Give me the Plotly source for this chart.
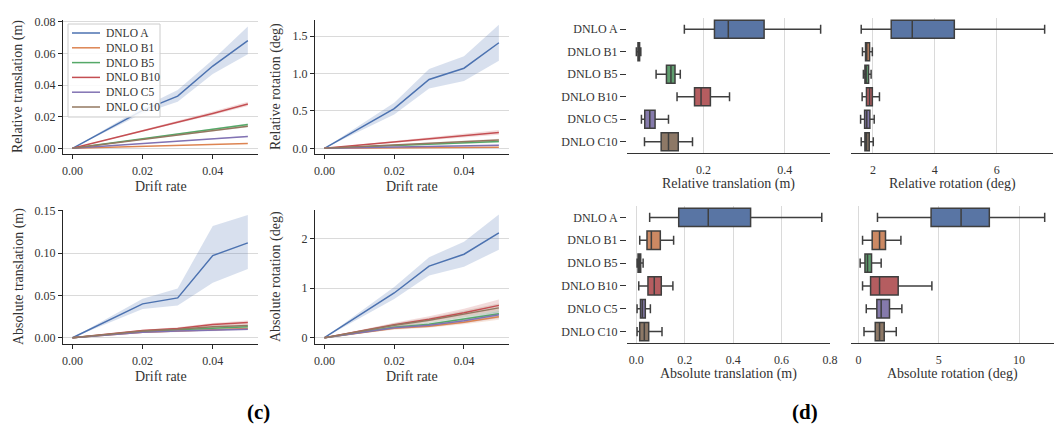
import plotly.graph_objects as go

# The page places the figure at an 8px body margin; all pixel positions below are
# given in page (screenshot) coordinates and converted with this offset.
OFF = 8
FW, FH = 1054, 420
FONT = "Liberation Serif"

series = ["DNLO A", "DNLO B1", "DNLO B5", "DNLO B10", "DNLO C5", "DNLO C10"]
line_colors = ["#4C72B0", "#DD8452", "#55A868", "#C44E52", "#8172B3", "#937860"]
band_colors = ["rgba(76,114,176,0.22)", "rgba(221,132,82,0.2)", "rgba(85,168,104,0.2)",
               "rgba(196,78,82,0.2)", "rgba(129,114,179,0.2)", "rgba(147,120,96,0.2)"]
box_colors = ["#5975a4", "#cc8963", "#5f9e6e", "#b55d60", "#857aab", "#8d7866"]

drift = [0.0, 0.02, 0.03, 0.04, 0.05]

# ---- Relative translation (m) ----
rel_trans_mean = [
    [0, 0.024, 0.033, 0.052, 0.068],
    [0, 0.0012, 0.0018, 0.0024, 0.003],
    [0, 0.006, 0.009, 0.012, 0.015],
    [0, 0.011, 0.0165, 0.022, 0.028],
    [0, 0.003, 0.0045, 0.006, 0.0075],
    [0, 0.0056, 0.0084, 0.0112, 0.014],
]
rel_trans_lo = [
    [0, 0.022, 0.0295, 0.047, 0.0595],
    [0, 0.0011, 0.0017, 0.0022, 0.0028],
    [0, 0.0057, 0.0086, 0.0114, 0.0143],
    [0, 0.0104, 0.0157, 0.021, 0.0268],
    [0, 0.0028, 0.0043, 0.0057, 0.0071],
    [0, 0.0053, 0.008, 0.0106, 0.0133],
]
rel_trans_hi = [
    [0, 0.026, 0.0368, 0.056, 0.077],
    [0, 0.0013, 0.0019, 0.0026, 0.0032],
    [0, 0.0063, 0.0094, 0.0126, 0.0157],
    [0, 0.0116, 0.0174, 0.0233, 0.0295],
    [0, 0.0032, 0.0047, 0.0063, 0.0079],
    [0, 0.0059, 0.0088, 0.0118, 0.0147],
]

# ---- Relative rotation (deg) ----
rel_rot_mean = [
    [0, 0.53, 0.92, 1.07, 1.41],
    [0, 0.006, 0.009, 0.012, 0.015],
    [0, 0.036, 0.054, 0.072, 0.09],
    [0, 0.085, 0.13, 0.17, 0.21],
    [0, 0.016, 0.024, 0.032, 0.04],
    [0, 0.044, 0.066, 0.088, 0.11],
]
rel_rot_lo = [
    [0, 0.45, 0.80, 0.90, 1.17],
    [0, 0.004, 0.006, 0.008, 0.01],
    [0, 0.03, 0.045, 0.06, 0.075],
    [0, 0.07, 0.11, 0.145, 0.18],
    [0, 0.012, 0.018, 0.025, 0.031],
    [0, 0.037, 0.055, 0.074, 0.092],
]
rel_rot_hi = [
    [0, 0.61, 1.06, 1.23, 1.65],
    [0, 0.008, 0.012, 0.016, 0.02],
    [0, 0.042, 0.063, 0.084, 0.105],
    [0, 0.10, 0.15, 0.195, 0.245],
    [0, 0.02, 0.03, 0.039, 0.049],
    [0, 0.051, 0.077, 0.102, 0.128],
]

# ---- Absolute translation (m) ----
abs_trans_mean = [
    [0, 0.040, 0.047, 0.097, 0.112],
    [0, 0.0065, 0.008, 0.0095, 0.011],
    [0, 0.0075, 0.0095, 0.0115, 0.013],
    [0, 0.0085, 0.011, 0.0155, 0.018],
    [0, 0.0065, 0.008, 0.009, 0.010],
    [0, 0.008, 0.010, 0.013, 0.0145],
]
abs_trans_lo = [
    [0, 0.034, 0.038, 0.065, 0.081],
    [0, 0.0057, 0.007, 0.0083, 0.0096],
    [0, 0.0066, 0.0084, 0.0101, 0.0114],
    [0, 0.0075, 0.0097, 0.0136, 0.0158],
    [0, 0.0057, 0.007, 0.0079, 0.0088],
    [0, 0.007, 0.0088, 0.0114, 0.0128],
]
abs_trans_hi = [
    [0, 0.046, 0.058, 0.132, 0.145],
    [0, 0.0073, 0.009, 0.0107, 0.0124],
    [0, 0.0084, 0.0106, 0.0129, 0.0146],
    [0, 0.0095, 0.0123, 0.0174, 0.0202],
    [0, 0.0073, 0.009, 0.0101, 0.0112],
    [0, 0.009, 0.0112, 0.0146, 0.0162],
]

# ---- Absolute rotation (deg) ----
abs_rot_mean = [
    [0, 0.90, 1.44, 1.68, 2.11],
    [0, 0.19, 0.23, 0.31, 0.42],
    [0, 0.21, 0.27, 0.37, 0.48],
    [0, 0.26, 0.37, 0.50, 0.65],
    [0, 0.20, 0.25, 0.34, 0.46],
    [0, 0.25, 0.35, 0.47, 0.60],
]
abs_rot_lo = [
    [0, 0.78, 1.25, 1.43, 1.77],
    [0, 0.16, 0.20, 0.27, 0.36],
    [0, 0.18, 0.23, 0.32, 0.41],
    [0, 0.22, 0.32, 0.43, 0.55],
    [0, 0.17, 0.21, 0.29, 0.39],
    [0, 0.21, 0.30, 0.40, 0.51],
]
abs_rot_hi = [
    [0, 1.02, 1.62, 1.93, 2.48],
    [0, 0.22, 0.27, 0.36, 0.48],
    [0, 0.24, 0.31, 0.43, 0.55],
    [0, 0.30, 0.43, 0.58, 0.77],
    [0, 0.23, 0.29, 0.39, 0.53],
    [0, 0.29, 0.40, 0.54, 0.69],
]

# ---- Box plot statistics: [lower whisker, q1, median, q3, upper whisker] per series ----
box_rel_trans = [
    [0.153, 0.227, 0.261, 0.349, 0.488],
    [0.035, 0.039, 0.041, 0.043, 0.046],
    [0.0835, 0.109, 0.120, 0.130, 0.143],
    [0.135, 0.178, 0.194, 0.217, 0.264],
    [0.0475, 0.0556, 0.068, 0.081, 0.114],
    [0.055, 0.096, 0.114, 0.138, 0.173],
]
box_rel_rot = [
    [1.62, 2.59, 3.27, 4.63, 7.55],
    [1.66, 1.76, 1.80, 1.89, 1.98],
    [1.69, 1.74, 1.78, 1.86, 1.94],
    [1.65, 1.79, 1.89, 1.98, 2.21],
    [1.60, 1.73, 1.80, 1.90, 2.04],
    [1.62, 1.74, 1.79, 1.88, 2.01],
]
box_abs_trans = [
    [0.055, 0.175, 0.297, 0.472, 0.766],
    [0.014, 0.044, 0.062, 0.099, 0.154],
    [0.003, 0.007, 0.012, 0.018, 0.028],
    [0.010, 0.048, 0.074, 0.103, 0.151],
    [0.003, 0.017, 0.025, 0.037, 0.058],
    [0.003, 0.014, 0.033, 0.051, 0.106],
]
box_abs_rot = [
    [1.18, 4.52, 6.39, 8.15, 11.6],
    [0.25, 0.85, 1.31, 1.68, 2.64],
    [0.10, 0.40, 0.56, 0.81, 1.41],
    [0.25, 0.75, 1.31, 2.47, 4.57],
    [0.48, 1.14, 1.41, 1.93, 2.70],
    [0.34, 1.04, 1.31, 1.60, 2.35],
]


def px(x):
    return (x - OFF) / FW


def py(y):
    return 1 - (y - OFF) / FH


def dom_x(a, b):
    return [px(a), px(b)]


def dom_y(top, bottom):
    return [py(bottom), py(top)]


fig = go.Figure()

AXC = "#262626"
GRID = "#dadada"
TXT = "#333333"
TICKF = dict(family=FONT, size=12, color=TXT)
TITLE_SIZE = 14

annotations = []
shapes = []


def add_title(text, x, y, angle=0):
    annotations.append(dict(text=text, x=px(x), y=py(y), xref="paper", yref="paper",
                            showarrow=False, textangle=angle, xanchor="center",
                            yanchor="middle",
                            font=dict(family=FONT, size=TITLE_SIZE, color=TXT)))


# line panels
line_panels = [
    (1, rel_trans_mean, rel_trans_lo, rel_trans_hi, (63, 258, 20, 154), [-0.0036, 0.0811],
     [0, 0.02, 0.04, 0.06, 0.08], ".2f", "Relative translation (m)", 18),
    (2, rel_rot_mean, rel_rot_lo, rel_rot_hi, (315, 509, 20, 154), [-0.076, 1.714],
     [0, 0.5, 1.0, 1.5], ".1f", "Relative rotation (deg)", 276),
    (3, abs_trans_mean, abs_trans_lo, abs_trans_hi, (63, 258, 210, 344), [-0.0074, 0.1508],
     [0, 0.05, 0.10, 0.15], ".2f", "Absolute translation (m)", 19),
    (4, abs_rot_mean, abs_rot_lo, abs_rot_hi, (315, 509, 210, 344), [-0.127, 2.57],
     [0, 1, 2], "d", "Absolute rotation (deg)", 276),
]

layout = {}
for idx, means, los, his, (x0, x1, y0, y1), yr, ytv, yfmt, ytitle, ytx in line_panels:
    xa = "x" if idx == 1 else f"x{idx}"
    ya = "y" if idx == 1 else f"y{idx}"
    for i, name in enumerate(series):
        fig.add_trace(go.Scatter(
            x=drift + drift[::-1], y=his[i] + los[i][::-1],
            fill="toself", fillcolor=band_colors[i], line=dict(width=0),
            mode="lines", hoverinfo="skip", showlegend=False, xaxis=xa, yaxis=ya))
    for i, name in enumerate(series):
        fig.add_trace(go.Scatter(
            x=drift, y=means[i], mode="lines", name=name,
            line=dict(color=line_colors[i], width=1.5),
            showlegend=False, xaxis=xa, yaxis=ya))
    layout[f"xaxis{'' if idx == 1 else idx}"] = dict(
        domain=dom_x(x0, x1), anchor=ya, range=[-0.0027, 0.0529],
        tickvals=[0, 0.02, 0.04], tickformat=".2f", ticks="outside", ticklen=4,
        tickcolor=AXC, showline=True, linecolor=AXC, linewidth=1.2, showgrid=False,
        zeroline=False, tickfont=TICKF, automargin=False, ticklabelstandoff=1)
    layout[f"yaxis{'' if idx == 1 else idx}"] = dict(
        domain=dom_y(y0, y1), anchor=xa, range=yr,
        tickvals=ytv, tickformat=yfmt, ticks="outside", ticklen=4, tickcolor=AXC,
        showline=True, linecolor=AXC, linewidth=1.2, showgrid=True, gridcolor=GRID,
        gridwidth=1, zeroline=False, tickfont=TICKF, automargin=False)
    add_title("Drift rate", (x0 + x1) / 2, y1 + 32)
    add_title(ytitle, ytx, (y0 + y1) / 2, angle=-90)

# box panels
box_panels = [
    (5, box_rel_trans, (627, 830, 18, 153), [0.012, 0.511], [0.2, 0.4], ".1f",
     "Relative translation (m)", True),
    (6, box_rel_rot, (851, 1053, 18, 153), [1.29, 7.82], [2, 4, 6], "d",
     "Relative rotation (deg)", False),
    (7, box_abs_trans, (627, 830, 206, 343), [-0.0386, 0.80], [0, 0.2, 0.4, 0.6, 0.8], ".1f",
     "Absolute translation (m)", True),
    (8, box_abs_rot, (851, 1054, 206, 343), [-0.47, 12.18], [0, 5, 10], "d",
     "Absolute rotation (deg)", False),
]
for idx, stats, (x0, x1, y0, y1), xr, xtv, xfmt, xtitle, showy in box_panels:
    xa, ya = f"x{idx}", f"y{idx}"
    for i, name in enumerate(series):
        lo, q1, md, q3, hi = stats[i]
        fig.add_trace(go.Box(
            y=[name], lowerfence=[lo], q1=[q1], median=[md], q3=[q3], upperfence=[hi],
            orientation="h", fillcolor=box_colors[i],
            line=dict(color="#3f3f3f", width=1.5), whiskerwidth=0.5, width=0.8,
            showlegend=False, hoverinfo="skip", xaxis=xa, yaxis=ya))
    layout[f"xaxis{idx}"] = dict(
        domain=dom_x(x0, x1), anchor=ya, range=xr, tickvals=xtv, tickformat=xfmt,
        ticks="", showline=True, linecolor="#333333", linewidth=1.2,
        showgrid=True, gridcolor=GRID, gridwidth=1.2, zeroline=False, tickfont=TICKF,
        automargin=False, ticklabelstandoff=5)
    layout[f"yaxis{idx}"] = dict(
        domain=dom_y(y0, y1), anchor=xa, type="category", categoryorder="array",
        categoryarray=series, range=[5.5, -0.5], showline=False, showgrid=False,
        zeroline=False, ticks="outside" if showy else "", ticklen=6, tickcolor="#333333",
        showticklabels=showy, tickfont=TICKF, automargin=False)
    add_title(xtitle, (x0 + x1) / 2, y1 + 31)

# legend (drawn inside the first panel)
LEG_X0, LEG_X1, LEG_Y0, LEG_Y1 = 68, 160, 24, 117
shapes.append(dict(type="rect", xref="paper", yref="paper", layer="above",
                   x0=px(LEG_X0), x1=px(LEG_X1), y0=py(LEG_Y1), y1=py(LEG_Y0),
                   fillcolor="rgba(255,255,255,0.85)", line=dict(color="#cccccc", width=1)))
for i, name in enumerate(series):
    yy = 33 + 14.8 * i
    shapes.append(dict(type="line", xref="paper", yref="paper", layer="above",
                       x0=px(72), x1=px(100), y0=py(yy), y1=py(yy),
                       line=dict(color=line_colors[i], width=1.5)))
    annotations.append(dict(text=name, x=px(104), y=py(yy), xref="paper", yref="paper",
                            showarrow=False, xanchor="left", yanchor="middle",
                            font=dict(family=FONT, size=11.5, color=TXT)))

# panel labels
for lab, lx in (("(c)", 258), ("(d)", 805)):
    annotations.append(dict(text=f"<b>{lab}</b>", x=px(lx), y=py(412), xref="paper",
                            yref="paper", showarrow=False, xanchor="center",
                            yanchor="middle", font=dict(family=FONT, size=21, color="black")))

fig.update_layout(
    width=FW, height=FH, margin=dict(l=0, r=0, t=0, b=0, pad=0),
    paper_bgcolor="white", plot_bgcolor="white",
    font=dict(family=FONT, color=TXT),
    showlegend=False,
    annotations=annotations,
    shapes=shapes,
    **layout,
)

fig.write_html("out.html")
